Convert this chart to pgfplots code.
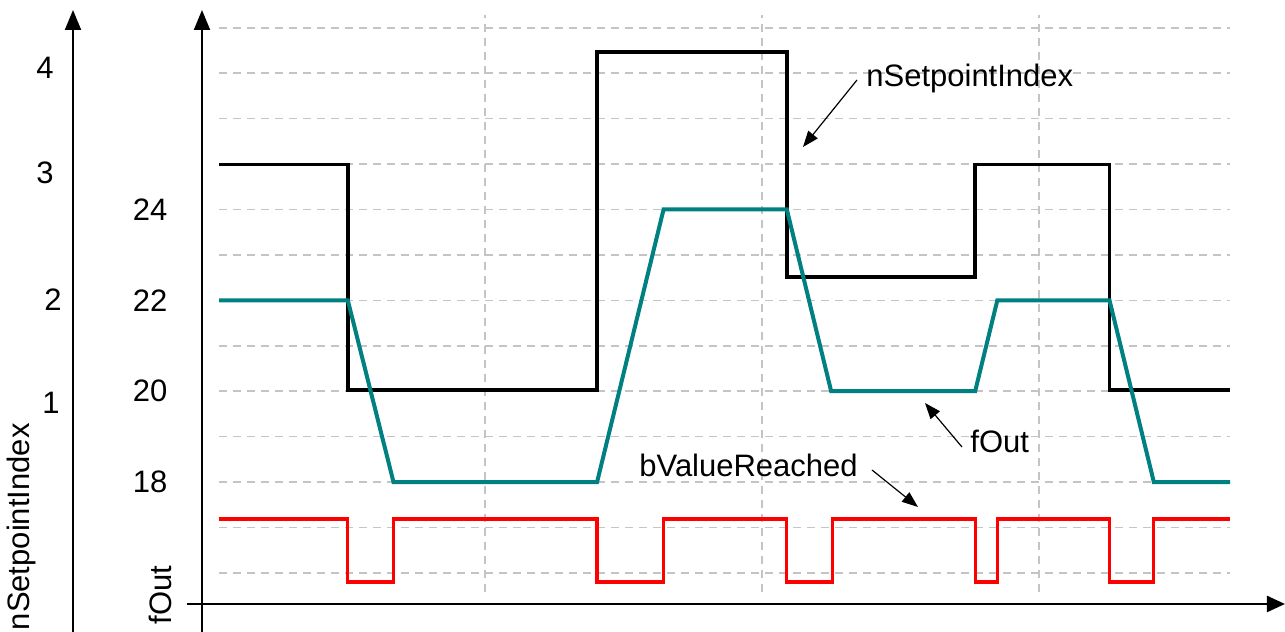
\documentclass[border=0pt]{standalone}
\usepackage{fontspec}
\setmainfont{Liberation Sans}
\usepackage{pgfplots}
\pgfplotsset{compat=1.18}
\usetikzlibrary{arrows.meta}

\definecolor{fteal}{RGB}{0,128,128}
\definecolor{gridgray}{RGB}{196,196,196}

% all signal axes share one frame (the dashed grid area)
\pgfplotsset{
  sigframe/.style={
    scale only axis, width=505.5bp, height=288.5bp,
    at={(109.5bp,20bp)}, anchor=south west,
    xmin=0.4, xmax=36.9, clip=false,
  },
  gridline/.style={gridgray, line width=0.8bp, dash pattern=on 4bp off 3bp},
}

\begin{document}
\fontsize{15.5bp}{18bp}\selectfont
\begin{tikzpicture}
\useasboundingbox (0,0) rectangle (642.5bp,316bp);

% grid + fOut tick labels
\begin{axis}[sigframe, ymin=15.58, ymax=28.28,
  axis line style={draw=none},
  major tick length=0pt, minor tick length=0pt,
  xtick={10,20,30}, xticklabels={},
  ytick={18,20,22,24},
  minor ytick={16,17,19,21,23,25,26,27,28},
  grid=both,
  major grid style={gridline}, minor grid style={gridline},
  yticklabel style={xshift=-20.5bp},
  /pgf/number format/assume math mode=true,
]
\end{axis}

% nSetpointIndex
\begin{axis}[sigframe, ymin=-0.792, ymax=4.327, hide axis]
\addplot[black, line width=1.8bp, line join=miter] coordinates {
  (0.4,3) (5.05,3) (5.05,1) (14.05,1) (14.05,4) (20.9,4) (20.9,2)
  (27.7,2) (27.7,3) (32.55,3) (32.55,1) (36.9,1)
};
\end{axis}

% fOut
\begin{axis}[sigframe, ymin=15.58, ymax=28.28, hide axis]
\addplot[fteal, line width=2bp, line join=miter] coordinates {
  (0.4,22) (5.05,22) (6.7,18) (14.05,18) (16.45,24) (20.9,24)
  (22.5,20) (27.7,20) (28.5,22) (32.55,22) (34.15,18) (36.9,18)
};
\end{axis}

% bValueReached
\begin{axis}[sigframe, ymin=-0.159, ymax=9.0, hide axis]
\addplot[red, line width=1.6bp, line join=miter] coordinates {
  (0.4,1) (5.05,1) (5.05,0) (6.7,0) (6.7,1) (14.05,1) (14.05,0)
  (16.45,0) (16.45,1) (20.9,1) (20.9,0) (22.55,0) (22.55,1) (27.7,1)
  (27.7,0) (28.5,0) (28.5,1) (32.55,1) (32.55,0) (34.15,0) (34.15,1)
  (36.9,1)
};
\end{axis}

% decorations in pixel units of the reference (origin top left)
\begin{scope}[yshift=316bp, x=0.5bp, y=-0.5bp]
  \draw[line width=1.2bp, -{Triangle[length=9bp,width=8bp]}] (187,604) -- (1285,604);
  \draw[line width=1bp, -{Triangle[length=10bp,width=8bp]}] (202,632) -- (202,10);
  \draw[line width=1bp, -{Triangle[length=10bp,width=8bp]}] (73,632) -- (73,10);

  \node[anchor=east, inner sep=0] at (54,68) {4};
  \node[anchor=east, inner sep=0] at (54,173) {3};
  \node[anchor=east, inner sep=0] at (62,300) {2};
  \node[anchor=east, inner sep=0] at (60,403) {1};

  \node[rotate=90, anchor=base west, inner sep=0] at (172,625) {fOut};
  \node[rotate=90, anchor=base east, inner sep=0] at (29,423) {nSetpointIndex};

  \node[anchor=base west, inner sep=0] at (866,87) {nSetpointIndex};
  \draw[line width=0.6bp, -{Triangle[length=8bp,width=6bp]}] (857,80) -- (803,147);
  \node[anchor=base west, inner sep=0] at (970,453) {fOut};
  \draw[line width=0.6bp, -{Triangle[length=8bp,width=6bp]}] (962,447) -- (925,403);
  \node[anchor=base west, inner sep=0] at (639,477) {bValueReached};
  \draw[line width=0.6bp, -{Triangle[length=8bp,width=6bp]}] (872,470) -- (918,507);
\end{scope}
\end{tikzpicture}
\end{document}
